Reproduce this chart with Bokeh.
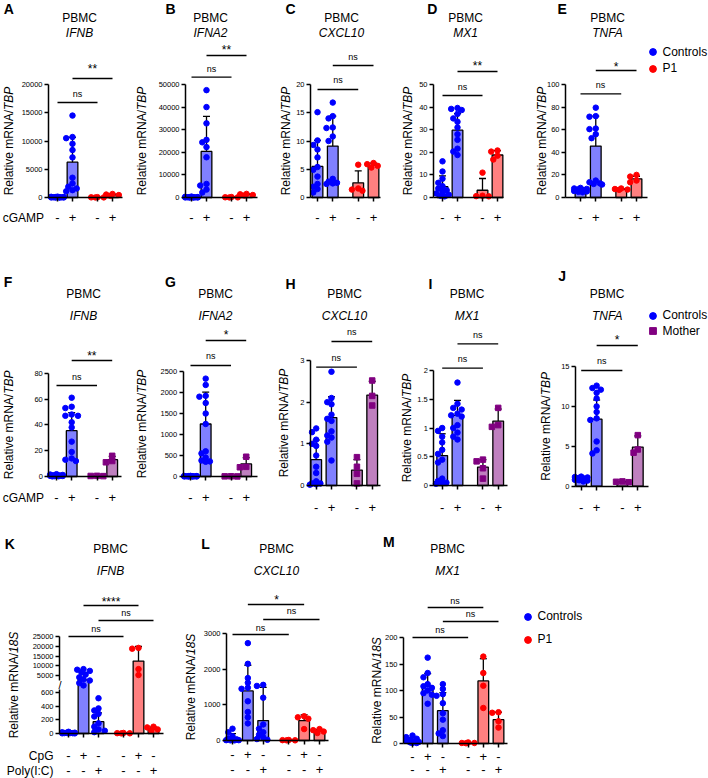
import numpy as np
from bokeh.plotting import figure
from bokeh.models import (ColumnDataSource, FixedTicker, Label, LabelSet, Legend,
                          LegendItem, Range1d, LinearAxis, CustomJSTickFormatter)
from bokeh.embed import file_html
from bokeh.resources import INLINE
from bokeh.core.properties import value

FONT = "Liberation Sans"

# ------------------------------------------------------------------ data
cgamp = ["-", "+", "-", "+"]
cpg = ["-", "+", "-", "-", "+", "-"]
polyic = ["-", "-", "+", "-", "-", "+"]

grp_p1 = ["Controls", "Controls", "P1", "P1"]
grp_mo = ["Controls", "Controls", "Mother", "Mother"]
grp_p1_6 = ["Controls", "Controls", "Controls", "P1", "P1", "P1"]

# A  IFNB (P1)
A_ticks = [0, 5000, 10000, 15000, 20000]
A_mean = [40, 6250, 30, 470]
A_sd = [30, 4400, 20, 130]
A_pts = [[150, 120, 90, 70, 50, 40, 30, 25, 20, 15, 10, 5],
         [14500, 10700, 10500, 9500, 8400, 7100, 3500, 2500, 1900, 1600, 1300, 1100],
         [60, 30, 20, 10],
         [620, 520, 430, 300]]
# B  IFNA2 (P1)
B_ticks = [0, 10000, 20000, 30000, 40000, 50000]
B_mean = [150, 20400, 100, 1300]
B_sd = [100, 15500, 80, 250]
B_pts = [[400, 300, 200, 150, 120, 100, 80, 60, 50, 40, 30, 20],
         [47500, 40000, 32800, 25500, 24400, 22300, 17800, 6000, 5300, 3500, 2200],
         [200, 100, 60, 40],
         [1600, 1400, 1100, 900]]
# C  CXCL10 (P1)
C_ticks = [0, 5, 10, 15, 20]
C_mean = [5.5, 9.1, 2.6, 5.7]
C_sd = [4.6, 5.3, 2.1, 0.4]
C_pts = [[15.1, 10.1, 9.3, 8.5, 7.1, 5.4, 4.9, 3.7, 2.4, 1.9, 1.5, 0.9],
         [16.8, 14.4, 14.0, 12.4, 12.3, 10.8, 10.0, 3.3, 2.8, 2.6, 2.5, 2.4],
         [5.8, 1.6, 1.4, 1.2],
         [6.1, 5.9, 5.6, 5.3]]
# D  MX1 (P1)
D_ticks = [0, 10, 20, 30, 40, 50]
D_mean = [4.8, 29.8, 3.2, 18.8]
D_sd = [4.8, 7.3, 5.2, 1.9]
D_pts = [[16.0, 11.5, 8.3, 6.5, 5.0, 4.0, 3.2, 2.5, 1.8, 1.2, 0.8, 0.5],
         [39.6, 39.2, 38.7, 37.0, 35.0, 33.5, 31.0, 28.0, 25.5, 21.6, 20.3, 18.8],
         [11.0, 0.8, 0.6, 0.5],
         [20.8, 20.3, 18.5, 16.8]]
# E  TNFA (P1)
E_ticks = [0, 20, 40, 60, 80, 100]
E_mean = [6.5, 45.5, 7.2, 16.5]
E_sd = [1.2, 26.5, 0.6, 2.3]
E_pts = [[8.5, 8.0, 7.6, 7.2, 6.8, 6.5, 6.2, 6.0, 5.7, 5.4, 5.0, 4.6],
         [79.5, 72.0, 71.5, 61.0, 60.5, 56.0, 52.5, 15.0, 13.5, 12.5, 12.0, 11.5],
         [8.0, 7.5, 7.0, 6.8],
         [20.0, 18.5, 15.0, 13.5]]
# F  IFNB (Mother)
F_ticks = [0, 20, 40, 60, 80]
F_mean = [0.8, 35.5, 0.4, 13.0]
F_sd = [0.5, 14.0, 0.1, 2.6]
F_pts = [[1.8, 1.5, 1.2, 1.0, 0.9, 0.8, 0.7, 0.6, 0.5, 0.4, 0.3, 0.2, 0.1],
         [61, 54, 53, 48, 47, 47, 42, 38, 27, 19, 14, 13, 12],
         [0.5, 0.4, 0.3],
         [16.0, 12.0, 11.0]]
# G  IFNA2 (Mother)
G_ticks = [0, 500, 1000, 1500, 2000, 2500]
G_mean = [5, 1250, 3, 300]
G_sd = [4, 760, 2, 150]
G_pts = [[15, 12, 10, 8, 6, 5, 4, 3, 2, 2, 1, 1],
         [2330, 2180, 1920, 1900, 1750, 1500, 1250, 600, 550, 450, 380, 360, 350],
         [5, 3, 2],
         [470, 230, 220]]
# H  CXCL10 (Mother)
H_ticks = [0, 1, 2, 3]
H_mean = [0.62, 1.63, 0.37, 2.17]
H_sd = [0.47, 0.5, 0.25, 0.33]
H_pts = [[1.37, 1.28, 1.1, 1.0, 0.95, 0.72, 0.45, 0.3, 0.1, 0.05, 0.05, 0.03, 0.02],
         [2.73, 2.1, 2.0, 1.95, 1.7, 1.6, 1.55, 1.3, 1.2, 1.15, 1.05, 0.6],
         [0.68, 0.45, 0.28, 0.05],
         [2.52, 2.15, 1.92]]
# I  MX1 (Mother)
I_ticks = [0, 0.5, 1.0, 1.5, 2.0]
I_mean = [0.52, 1.22, 0.32, 1.12]
I_sd = [0.38, 0.26, 0.13, 0.21]
I_pts = [[1.0, 0.95, 0.85, 0.75, 0.62, 0.55, 0.45, 0.4, 0.12, 0.08, 0.05, 0.04, 0.03],
         [1.79, 1.42, 1.35, 1.32, 1.25, 1.22, 1.2, 1.05, 1.0, 0.92, 0.85, 0.8],
         [0.45, 0.42, 0.3, 0.12],
         [1.35, 1.05, 1.02]]
# J  TNFA (Mother)
J_ticks = [0, 5, 10, 15]
J_mean = [0.9, 8.4, 0.55, 4.9]
J_sd = [0.2, 2.4, 0.05, 1.4]
J_pts = [[1.2, 1.15, 1.1, 1.05, 1.0, 0.95, 0.9, 0.85, 0.8, 0.75, 0.7, 0.6],
         [12.6, 12.3, 12.1, 11.7, 11.0, 10.0, 9.3, 8.5, 8.3, 5.6, 4.5, 4.1],
         [0.6, 0.55, 0.5],
         [6.4, 4.6, 4.2]]
# K  IFNB, CpG / Poly(I:C)  (broken y axis)
K_ticks_low = [0, 200, 400, 600]
K_ticks_high = [5000, 10000, 15000, 20000, 25000]
K_mean = [10, 2950, 175, 5, 12500, 70]
K_sd = [8, 3200, 130, 3, 7400, 25]
K_pts = [[25, 18, 12, 10, 8, 6, 5, 4, 3, 2],
         [8400, 8100, 7500, 6800, 5600, 4200, 3200, 2600, 2000, 1500],
         [520, 370, 340, 290, 250, 150, 100, 60, 40, 20],
         [8, 5, 3, 2],
         [19200, 18800, 8400, 5400],
         [100, 90, 60, 40]]
# L  CXCL10, CpG / Poly(I:C)
L_ticks = [0, 1000, 2000, 3000]
L_mean = [90, 1390, 560, 10, 560, 260]
L_sd = [100, 720, 930, 5, 160, 40]
L_pts = [[330, 230, 120, 60, 30, 20, 10, 10, 5, 5],
         [2730, 2150, 1750, 1620, 1480, 1450, 1100, 800, 650, 480],
         [1560, 1530, 1200, 450, 330, 230, 160, 90, 40, 20],
         [15, 10, 5, 5],
         [680, 650, 610, 320],
         [320, 290, 250, 210]]
# M  MX1, CpG / Poly(I:C)
M_ticks = [0, 50, 100, 150, 200]
M_mean = [6, 108, 62, 1, 118, 45]
M_sd = [5, 24, 34, 1, 42, 14]
M_pts = [[15, 12, 9, 7, 5, 4, 3, 2, 1, 1],
         [162, 133, 125, 112, 108, 105, 100, 95, 92, 75],
         [112, 103, 93, 90, 76, 57, 45, 25, 19, 14],
         [2, 1, 1, 0.5],
         [164, 133, 109, 67],
         [59, 58, 42, 30]]

# axis-break settings for K
K_LOW_MAX, K_HIGH_MIN, K_HIGH_REF, K_T_REF, K_SLOPE = 650, 2500, 5000, 850.6, 0.02897


def k_t(v):
    t_hi_min = K_T_REF + (K_HIGH_MIN - K_HIGH_REF) * K_SLOPE
    if v <= K_LOW_MAX:
        return v
    if v < K_HIGH_MIN:
        return K_LOW_MAX + (v - K_LOW_MAX) / (K_HIGH_MIN - K_LOW_MAX) * (t_hi_min - K_LOW_MAX)
    return K_T_REF + (v - K_HIGH_REF) * K_SLOPE


COL = {"Controls": ("#0000FF", "#8080FF", "circle"),
       "P1": ("#FF0000", "#FF8080", "circle"),
       "Mother": ("#800080", "#BF80BF", "square")}

# ------------------------------------------------------------------ geometry
WIDTH, HEIGHT = 708, 778


def sx(xr):
    return xr


def sy(yr):
    return HEIGHT - yr


P4 = [0, 1, 2.667, 3.667]
P6 = [0, 1, 2, 3.667, 4.667, 5.667]


def swarm(ypx, step=4.2, cands=(0, -1, 1, -0.5, 0.5, -1.5, 1.5)):
    order = sorted(range(len(ypx)), key=lambda i: -ypx[i])
    placed, out = [], [0.0] * len(ypx)
    for i in order:
        y = ypx[i]
        chosen, best_c, best_d = None, 0.0, -1
        for c in cands:
            ox = c * step
            d = min((np.hypot(ox - a, y - b) for a, b in placed), default=1e9)
            if d >= 4.6:
                chosen = ox
                break
            if d > best_d:
                best_d, best_c = d, ox
        if chosen is None:
            chosen = best_c
        out[i] = chosen
        placed.append((chosen, y))
    return out


def style_axis(ax):
    ax.axis_line_color = "black"
    ax.axis_line_width = 1.5
    ax.major_tick_line_color = "black"
    ax.major_tick_line_width = 1.5
    ax.major_tick_out = 4
    ax.major_tick_in = 0
    ax.minor_tick_line_color = None
    ax.major_label_text_font = FONT
    ax.major_label_text_font_size = "7.5px"
    ax.major_label_text_color = "black"
    ax.major_label_standoff = 2


def lab(p, text, x, y, size=12, style="normal", align="center", angle=0.0):
    p.add_layout(Label(x=x, y=y, x_units="screen", y_units="screen", text=text,
                       text_font=FONT, text_font_size=f"{size}px", text_font_style=style,
                       text_align=align, text_baseline="middle", angle=angle,
                       text_color="black"))


def make_panel(p, s):
    nm = s["letter"]
    tf = s.get("tf", lambda v: v)
    pos, bars = s["pos"], s["bars"]
    pxu = (bars[-1] - bars[0]) / (pos[-1] - pos[0])
    x_start = pos[0] - bars[0] / pxu
    p.extra_x_ranges[nm] = Range1d(x_start, x_start + WIDTH / pxu)
    top_t = tf(s["top"])
    k = top_t / (s["y0"] - s["ytop"])
    y_start = -sy(s["y0"]) * k
    p.extra_y_ranges[nm] = Range1d(y_start, y_start + HEIGHT * k)
    u_axL = pos[0] + (s["axL"] - bars[0]) / pxu
    u_axR = pos[0] + (s["axR"] - bars[0]) / pxu
    rn = dict(x_range_name=nm, y_range_name=nm)

    means, sds, pts, grp = s["mean"], s["sd"], s["pts"], s["grp"]
    src = ColumnDataSource(dict(x=pos, top=[tf(m) for m in means],
                                fill=[COL[g][1] for g in grp]))
    p.vbar(x="x", top="top", bottom=0, width=10.7 / pxu, fill_color="fill",
           line_color="black", line_width=1.3, source=src, **rn)
    lo = [tf(m) for m in means]
    hi = [tf(m + d) for m, d in zip(means, sds)]
    cw = 3.5 / pxu
    p.segment(x0=pos, y0=lo, x1=pos, y1=hi, line_color="black", line_width=1.3, **rn)
    p.segment(x0=[q - cw for q in pos], x1=[q + cw for q in pos], y0=hi, y1=hi,
              line_color="black", line_width=1.3, **rn)
    series = {}
    for gi, g in enumerate(grp):
        vals = [tf(v) for v in pts[gi]]
        offs = swarm([v / k for v in vals])
        xx, yy = series.setdefault(g, ([], []))
        xx.extend([pos[gi] + o / pxu for o in offs])
        yy.extend(vals)
    for g, (xx, yy) in series.items():
        c = COL[g][0]
        p.scatter(xx, yy, marker=COL[g][2], size=5.5, fill_color=c, line_color=c, **rn)

    # axes drawn at fixed data locations
    xa = LinearAxis(ticker=FixedTicker(ticks=pos), fixed_location=0, bounds=(u_axL, u_axR),
                    formatter=CustomJSTickFormatter(code="return ''"), **rn)
    style_axis(xa)
    p.add_layout(xa, "below")
    if "ticks_hi" in s:
        ya = LinearAxis(ticker=FixedTicker(ticks=s["ticks"]), fixed_location=u_axL,
                        bounds=(0, K_LOW_MAX), **rn)
        style_axis(ya)
        p.add_layout(ya, "left")
        r = p.extra_y_ranges[nm]
        hn = nm + "_hi"
        p.extra_y_ranges[hn] = Range1d(K_HIGH_REF + (r.start - K_T_REF) / K_SLOPE,
                                       K_HIGH_REF + (r.end - K_T_REF) / K_SLOPE)
        ya2 = LinearAxis(ticker=FixedTicker(ticks=s["ticks_hi"]), fixed_location=u_axL,
                         bounds=(K_HIGH_MIN, s["top"]), x_range_name=nm, y_range_name=hn)
        style_axis(ya2)
        p.add_layout(ya2, "left")
        lab(p, "/", sx(s["axL"]) + 0.5, sy(684.5), size=11)
    else:
        ya = LinearAxis(ticker=FixedTicker(ticks=s["ticks"]), fixed_location=u_axL,
                        bounds=(0, top_t), **rn)
        style_axis(ya)
        p.add_layout(ya, "left")

    # significance bars
    for i, j, ly, txt, ty in s["sig"]:
        yl = (s["y0"] - ly) * k
        p.segment(x0=[pos[i]], x1=[pos[j]], y0=[yl], y1=[yl], line_color="black",
                  line_width=1.3, **rn)
        star = txt.startswith("*")
        lab(p, txt, (sx(bars[i]) + sx(bars[j])) / 2, sy(ty) + (-3 if star else 1),
            size=12 if star else 9)

    # treatment rows
    for labels, yr in s["treat"]:
        ls = ColumnDataSource(dict(x=pos, t=labels))
        p.add_layout(LabelSet(x="x", y=sy(yr), y_units="screen", text="t", source=ls,
                              text_font=value(FONT), text_font_size="13px",
                              text_align="center", text_baseline="middle",
                              text_color="black", **rn))
    for txt, xr, yr in s.get("left", []):
        lab(p, txt, sx(xr), sy(yr), align="right")

    # y-axis title with italic reference gene
    ylx, ital = s["ylab"]
    w1 = 7.112 * 12
    w2 = (1.945 if ital == "TBP" else 1.779) * 12
    yc = sy((s["y0"] + s["ytop"]) / 2)
    start = yc - (w1 + w2) / 2
    lab(p, "Relative mRNA/", sx(ylx), start, align="left", angle=np.pi / 2)
    lab(p, ital, sx(ylx), start + w1, style="italic", align="left", angle=np.pi / 2)

    # panel letter and titles
    lx, lyy = s["let"]
    lab(p, nm, sx(lx), sy(lyy), size=14, style="bold")
    tx, t1, t2, gene = s["title"]
    lab(p, "PBMC", sx(tx), sy(t1))
    lab(p, gene, sx(tx), sy(t2), style="italic")

    # legend, one entry per marker row
    GH = 17
    for name, mx, my in s.get("legend", []):
        c = COL[name][0]
        r = p.scatter(x=[np.nan], y=[np.nan], marker=COL[name][2], size=7,
                      fill_color=c, line_color=c)
        leg = Legend(items=[LegendItem(label=name, renderers=[r])],
                     location=(sx(mx) - GH / 2, sy(my) - GH / 2),
                     glyph_width=GH, glyph_height=GH, label_height=GH, label_standoff=2,
                     padding=0, margin=0, border_line_color=None,
                     background_fill_alpha=0, label_text_font=FONT,
                     label_text_font_size="12px", label_text_color="black")
        p.add_layout(leg)


panels = [
    dict(letter="A", axL=48, axR=122, bars=[57, 72, 97, 112], pos=P4,
         y0=197, ytop=84, top=20000, ticks=A_ticks, mean=A_mean, sd=A_sd, pts=A_pts, grp=grp_p1,
         ylab=(8, "TBP"), let=(8.3, 8), title=(79, 17, 32, "IFNB"), treat=[(cgamp, 217)],
         left=[("cGAMP", 43.5, 217)], sig=[(0, 2, 102, "ns", 94), (1, 3, 78, "**", 65)]),
    dict(letter="B", axL=185, axR=257, bars=[191, 206, 231, 246], pos=P4,
         y0=197, ytop=84, top=50000, ticks=B_ticks, mean=B_mean, sd=B_sd, pts=B_pts, grp=grp_p1,
         ylab=(141.7, "TBP"), let=(170, 8), title=(210, 17, 32, "IFNA2"), treat=[(cgamp, 217)],
         sig=[(0, 2, 76.7, "ns", 69), (1, 3, 55, "**", 46.7)]),
    dict(letter="C", axL=310, axR=380, bars=[317, 332, 358, 373], pos=P4,
         y0=197, ytop=84, top=20, ticks=C_ticks, mean=C_mean, sd=C_sd, pts=C_pts, grp=grp_p1,
         ylab=(285, "TBP"), let=(290, 8), title=(341, 17, 32, "CXCL10"), treat=[(cgamp, 217)],
         sig=[(0, 2, 89, "ns", 80), (1, 3, 65, "ns", 57)]),
    dict(letter="D", axL=433, axR=503, bars=[442, 457, 482, 497], pos=P4,
         y0=197, ytop=84, top=50, ticks=D_ticks, mean=D_mean, sd=D_sd, pts=D_pts, grp=grp_p1,
         ylab=(407.7, "TBP"), let=(431.7, 8), title=(465, 17, 32, "MX1"), treat=[(cgamp, 217)],
         sig=[(0, 2, 95, "ns", 87), (1, 3, 71, "**", 62)]),
    dict(letter="E", axL=565, axR=647, bars=[580, 595, 620, 636], pos=P4,
         y0=197, ytop=84, top=100, ticks=E_ticks, mean=E_mean, sd=E_sd, pts=E_pts, grp=grp_p1,
         ylab=(541, "TBP"), let=(561.7, 8), title=(607, 17, 32, "TNFA"), treat=[(cgamp, 217)],
         sig=[(0, 2, 93.3, "ns", 85.7), (1, 3, 70, "*", 63.3)],
         legend=[("Controls", 652, 51.7), ("P1", 652, 68.3)]),
    dict(letter="F", axL=48.3, axR=120.7, bars=[56, 71, 96.7, 111.7], pos=P4,
         y0=476, ytop=372.7, top=80, ticks=F_ticks, mean=F_mean, sd=F_sd, pts=F_pts, grp=grp_mo,
         ylab=(8.3, "TBP"), let=(7.5, 281.7), title=(83, 293, 315, "IFNB"), treat=[(cgamp, 497)],
         left=[("cGAMP", 43.5, 497)], sig=[(0, 2, 385, "ns", 377), (1, 3, 360, "**", 352)]),
    dict(letter="G", axL=182.7, axR=256.7, bars=[190, 205.7, 230.7, 245.7], pos=P4,
         y0=476, ytop=371, top=2500, ticks=G_ticks, mean=G_mean, sd=G_sd, pts=G_pts, grp=grp_mo,
         ylab=(141.7, "TBP"), let=(170, 281.7), title=(215, 293, 315, "IFNA2"), treat=[(cgamp, 497)],
         sig=[(0, 2, 365, "ns", 356.7), (1, 3, 340, "*", 331.7)]),
    dict(letter="H", axL=310, axR=380, bars=[315.7, 331, 356, 371.7], pos=P4,
         y0=485, ytop=360, top=3, ticks=H_ticks, mean=H_mean, sd=H_sd, pts=H_pts, grp=grp_mo,
         ylab=(283.3, "TBP"), let=(290, 283), title=(344, 293, 315, "CXCL10"), treat=[(cgamp, 506.7)],
         sig=[(0, 2, 366.7, "ns", 358), (1, 3, 341, "ns", 332.7)]),
    dict(letter="I", axL=433.3, axR=506.7, bars=[441.7, 456.7, 482.3, 497.7], pos=P4,
         y0=485, ytop=370, top=2.0, ticks=I_ticks, mean=I_mean, sd=I_sd, pts=I_pts, grp=grp_mo,
         ylab=(406.7, "TBP"), let=(430, 283), title=(466.7, 293, 315, "MX1"), treat=[(cgamp, 506.7)],
         sig=[(0, 2, 367.7, "ns", 359), (1, 3, 343.3, "ns", 335)]),
    dict(letter="J", axL=575, axR=648.3, bars=[580.7, 596, 621.7, 637.3], pos=P4,
         y0=485.7, ytop=366, top=15, ticks=J_ticks, mean=J_mean, sd=J_sd, pts=J_pts, grp=grp_mo,
         ylab=(545, "TBP"), let=(561.7, 275), title=(606.7, 293, 315, "TNFA"), treat=[(cgamp, 506.7)],
         sig=[(0, 2, 370, "ns", 361.7), (1, 3, 345, "*", 336)],
         legend=[("Controls", 652, 315), ("Mother", 652, 330.5)]),
    dict(letter="K", axL=59, axR=163, bars=[68, 83, 98, 123, 138, 153], pos=P6,
         y0=733, ytop=636, top=25000, tf=k_t, ticks=K_ticks_low, ticks_hi=K_ticks_high,
         mean=K_mean, sd=K_sd, pts=K_pts, grp=grp_p1_6,
         ylab=(13.3, "18S"), let=(9.3, 543.3), title=(110, 548, 570, "IFNB"),
         treat=[(cpg, 755), (polyic, 770)], left=[("CpG", 53, 755), ("Poly(I:C)", 53, 770)],
         sig=[(0, 3, 636, "ns", 629), (2, 5, 620, "ns", 613), (1, 4, 605, "****", 598)]),
    dict(letter="L", axL=226, axR=328, bars=[232, 248, 263, 288, 304, 319], pos=P6,
         y0=740, ytop=633, top=3000, ticks=L_ticks, mean=L_mean, sd=L_sd, pts=L_pts, grp=grp_p1_6,
         ylab=(190, "18S"), let=(205, 543.3), title=(276, 548, 570, "CXCL10"),
         treat=[(cpg, 754), (polyic, 769)],
         sig=[(0, 3, 634, "ns", 628), (2, 5, 619, "ns", 611), (1, 4, 604, "*", 596)]),
    dict(letter="M", axL=403, axR=507, bars=[412, 427, 442, 467, 482, 498], pos=P6,
         y0=743, ytop=637, top=200, ticks=M_ticks, mean=M_mean, sd=M_sd, pts=M_pts, grp=grp_p1_6,
         ylab=(376.7, "18S"), let=(388.3, 541.7), title=(447, 548, 570, "MX1"),
         treat=[(cpg, 756), (polyic, 769)],
         sig=[(0, 3, 637, "ns", 630), (2, 5, 621, "ns", 614), (1, 4, 607, "ns", 601)],
         legend=[("Controls", 527, 616), ("P1", 527, 639)]),
]

p = figure(width=WIDTH, height=HEIGHT, x_range=Range1d(0, WIDTH), y_range=Range1d(0, HEIGHT),
           x_axis_type=None, y_axis_type=None, min_border=0, output_backend="svg",
           toolbar_location=None, outline_line_color=None,
           background_fill_color="white", border_fill_color="white")
for s in panels:
    make_panel(p, s)

open("out.html", "w").write(file_html(p, INLINE))
